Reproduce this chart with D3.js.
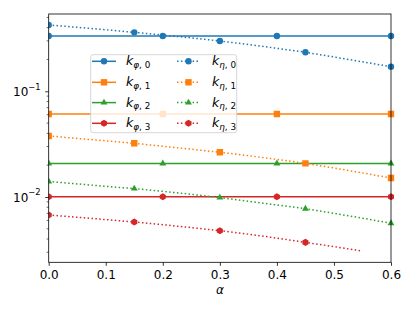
<!DOCTYPE html>
<html>
<head>
<meta charset="utf-8">
<script src="https://cdn.jsdelivr.net/npm/d3@7"></script>
<style>
body{margin:0;background:#fff;}
svg{display:block;font-family:"DejaVu Sans",sans-serif;}
</style>
</head>
<body>
<div id="chart"></div>
<script>
// data
const alphaSteps=[0,0.05,0.1,0.15,0.2,0.25,0.3,0.35,0.4,0.45,0.5,0.55,0.6];
const kPhi=[0.333,0.061,0.0207,0.01007];
const kEta0=[0.424,0.403,0.382,0.361,0.340,0.320,0.299,0.277,0.255,0.234,0.211,0.190,0.171];
const kEta1=[0.0378,0.0358,0.0340,0.0322,0.0302,0.0283,0.0265,0.0246,0.0227,0.0208,0.0188,0.0169,0.0151];
const kEta2=[0.0140,0.0133,0.0126,0.0120,0.0113,0.0106,0.00986,0.0091,0.0084,0.00775,0.0070,0.0063,0.00564];
const kEta3=[0.00676,0.00643,0.00611,0.0058,0.00547,0.00513,0.0048,0.00445,0.00408,0.00372,0.00339,0.00308];
const xTicks=[0,0.1,0.2,0.3,0.4,0.5,0.6];
const yMajor=[0.01,0.1];
const yMinor=[0.003,0.004,0.005,0.006,0.007,0.008,0.009,0.02,0.03,0.04,0.05,0.06,0.07,0.08,0.09,0.2,0.3,0.4,0.5];
const colors=["#1f77b4","#ff7f0e","#2ca02c","#d62728"];
const markers=["circle","square","triangle","hexagon"];
const etaSeries=[kEta0,kEta1,kEta2,kEta3];

const W=415,H=311;
const plotL=48.7,plotR=391,plotT=14,plotB=262.3;

const svg=d3.select("#chart").append("svg").attr("width",W).attr("height",H);

const x=d3.scaleLinear().domain([0,0.6]).range([plotL,plotR]);
const y=d3.scaleLog().domain([0.00241,0.5385]).range([plotB,plotT]);

const plot=svg.append("g");
svg.append("clipPath").attr("id","clip").append("rect")
  .attr("x",plotL).attr("y",plotT-5).attr("width",plotR-plotL+5).attr("height",plotB-plotT+10);
plot.attr("clip-path","url(#clip)");

function markerPath(type,size){
  if(type==="circle") return d3.symbol(d3.symbolCircle,Math.PI*size*size/4)();
  if(type==="square") return d3.symbol(d3.symbolSquare,size*size)();
  if(type==="triangle"){
    const r=size*0.62;
    return "M0,"+(-r)+"L"+(r*0.866)+","+(r*0.5)+"L"+(-r*0.866)+","+(r*0.5)+"Z";
  }
  let r=size*0.55, p=[];
  for(let i=0;i<6;i++){
    let a=Math.PI/6+i*Math.PI/3;
    p.push((r*Math.cos(a)).toFixed(2)+","+(r*Math.sin(a)).toFixed(2));
  }
  return "M"+p.join("L")+"Z";
}

const line=d3.line().x(d=>x(d[0])).y(d=>y(d[1]));

// solid series (constant)
kPhi.forEach((v,i)=>{
  const pts=alphaSteps.map(a=>[a,v]);
  plot.append("path").datum(pts).attr("d",line)
    .attr("fill","none").attr("stroke",colors[i]).attr("stroke-width",1.5);
  plot.selectAll(null).data(pts.filter((d,j)=>j%4===0)).enter()
    .append("path").attr("d",markerPath(markers[i],6.4))
    .attr("transform",d=>"translate("+x(d[0])+","+y(d[1])+")")
    .attr("fill",colors[i]);
});

// dotted series
etaSeries.forEach((vals,i)=>{
  const pts=vals.map((v,j)=>[alphaSteps[j],v]);
  plot.append("path").datum(pts).attr("d",line)
    .attr("fill","none").attr("stroke",colors[i]).attr("stroke-width",1.5)
    .attr("stroke-dasharray","1.5,2.4");
  plot.selectAll(null).data(pts.filter((d,j)=>j%3===0)).enter()
    .append("path").attr("d",markerPath(markers[i],6.4))
    .attr("transform",d=>"translate("+x(d[0])+","+y(d[1])+")")
    .attr("fill",colors[i]);
});

// axes
const xAxis=svg.append("g").attr("transform","translate(0,"+plotB+")")
  .call(d3.axisBottom(x).tickValues(xTicks).tickSize(3.5).tickPadding(4.5).tickFormat(d3.format(".1f")));
xAxis.select(".domain").remove();
xAxis.selectAll("text").attr("font-size",12).attr("fill","#000").attr("font-family","DejaVu Sans");
xAxis.selectAll("line").attr("stroke","#000").attr("stroke-width",0.8);

const yAxis=svg.append("g").attr("transform","translate("+plotL+",0)")
  .call(d3.axisLeft(y).tickValues(yMajor).tickSize(3.5).tickPadding(3).tickFormat(()=>""));
yAxis.select(".domain").remove();
yAxis.selectAll("line").attr("stroke","#000").attr("stroke-width",0.8);
yAxis.selectAll(".tick").each(function(d){
  const t=d3.select(this).append("text").attr("x",-8).attr("dy","0.38em")
    .attr("text-anchor","end").attr("fill","#000").attr("font-size",12).attr("font-family","DejaVu Sans");
  t.append("tspan").text("10");
  t.append("tspan").attr("font-size",8.4).attr("dy","-0.8em").text("\u2212"+Math.round(-Math.log10(d)));
});
svg.append("g").selectAll("line").data(yMinor).enter().append("line")
  .attr("x1",plotL-2).attr("x2",plotL).attr("y1",d=>y(d)).attr("y2",d=>y(d))
  .attr("stroke","#000").attr("stroke-width",0.6);

// frame
svg.append("rect").attr("x",plotL).attr("y",plotT).attr("width",plotR-plotL).attr("height",plotB-plotT)
  .attr("fill","none").attr("stroke","#000").attr("stroke-width",0.8);

// x label
svg.append("text").attr("x",(plotL+plotR)/2).attr("y",293.5).attr("text-anchor","middle")
  .attr("font-size",12).attr("font-style","italic").text("\u03b1");

// legend
const leg=svg.append("g");
leg.append("rect").attr("x",90.7).attr("y",54.7).attr("width",146).attr("height",78)
  .attr("rx",2.5).attr("fill","#fff").attr("fill-opacity",0.8)
  .attr("stroke","#ccc").attr("stroke-width",0.8);
const rowY=[61.3,82.3,102.6,123.3];
const cols=[{x0:92,x1:116,tx:126,sym:"\u03c6",dash:null},{x0:177,x1:200,tx:212,sym:"\u03b7",dash:"1.5,2.4"}];
cols.forEach(c=>{
  rowY.forEach((ry,i)=>{
    leg.append("line").attr("x1",c.x0).attr("x2",c.x1).attr("y1",ry).attr("y2",ry)
      .attr("stroke",colors[i]).attr("stroke-width",1.5).attr("stroke-dasharray",c.dash);
    leg.append("path").attr("d",markerPath(markers[i],6.4))
      .attr("transform","translate("+((c.x0+c.x1)/2)+","+ry+")").attr("fill",colors[i]);
    const t=leg.append("text").attr("x",c.tx).attr("y",ry+4).attr("font-size",12.5).attr("fill","#000");
    t.append("tspan").attr("font-style","italic").text("k");
    t.append("tspan").attr("font-size",8.8).attr("dy","0.25em").attr("font-style","italic").text(c.sym);
    t.append("tspan").attr("font-size",8.8).text(", "+i);
  });
});
</script>
</body>
</html>
